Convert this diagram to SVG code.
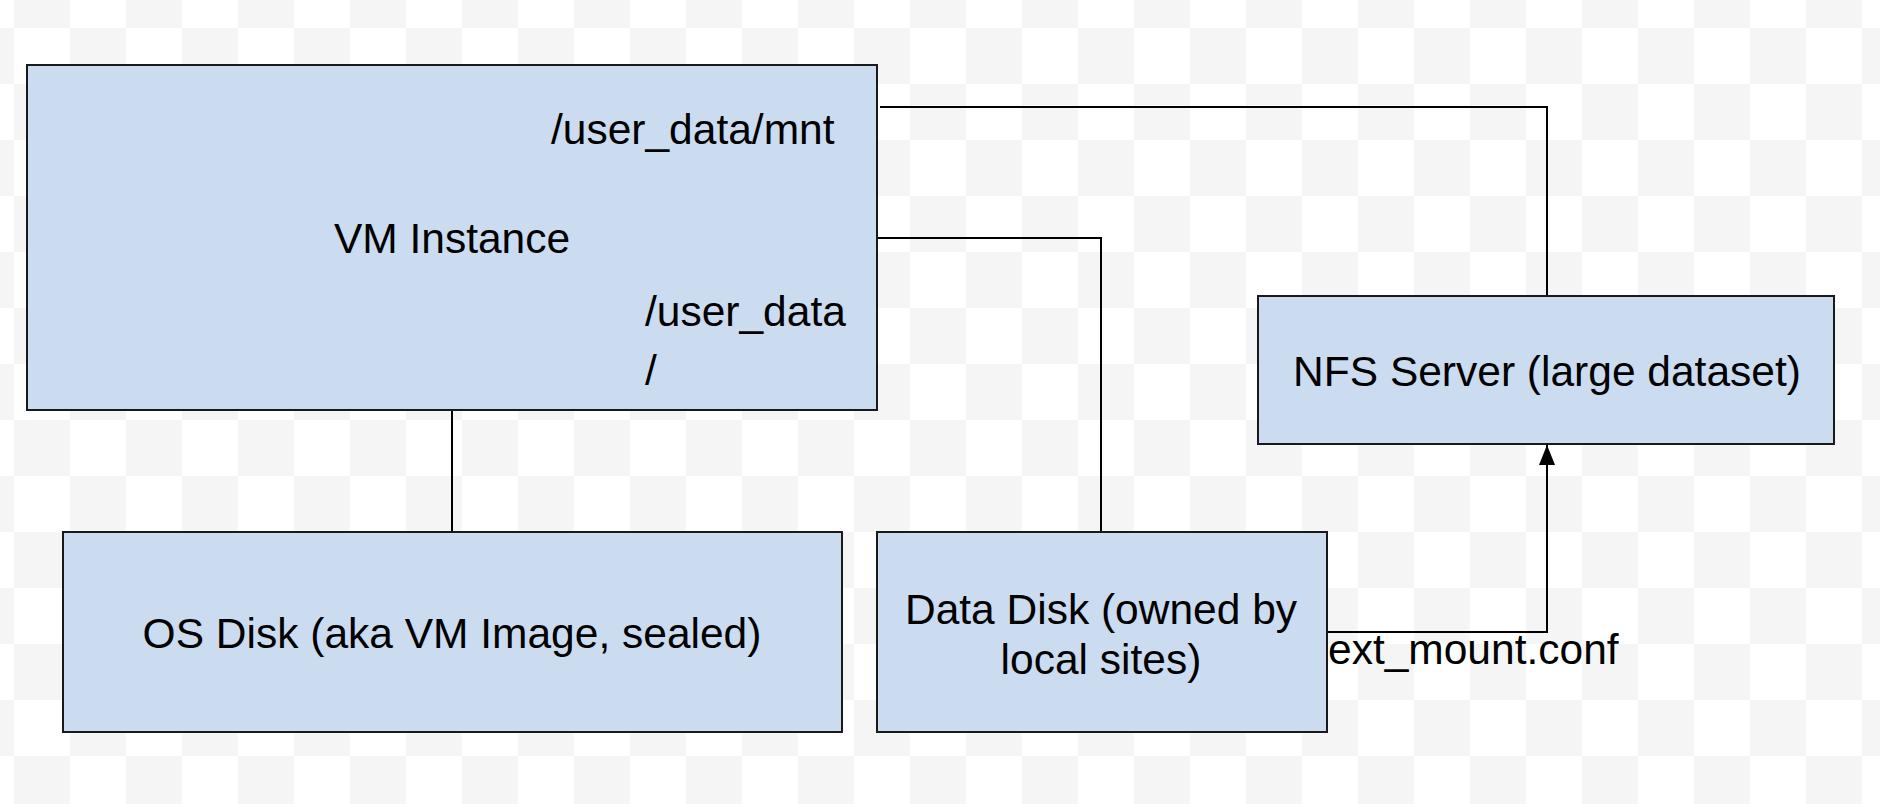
<svg xmlns="http://www.w3.org/2000/svg" width="1880" height="804" viewBox="0 0 1880 804">
<defs>
<pattern id="chk" x="14" y="-28" width="112" height="112" patternUnits="userSpaceOnUse">
<rect width="112" height="112" fill="#ffffff"/>
<rect width="56" height="56" fill="#f5f5f5"/>
<rect x="56" y="56" width="56" height="56" fill="#f5f5f5"/>
</pattern>
<marker id="arr" markerWidth="20" markerHeight="16" refX="20" refY="8" orient="auto" markerUnits="userSpaceOnUse" viewBox="0 0 20 16">
<path d="M0,0 L20,8 L0,16 Z" fill="#000"/>
</marker>
<style>
.box{fill:#cbdcf1;stroke:#1a1a1a;stroke-width:2}
.t{font-family:"Liberation Sans",Arial,sans-serif;font-size:42.5px;fill:#000}
.c{text-anchor:middle}
.ln{fill:none;stroke:#000;stroke-width:2}
</style>
</defs>
<rect width="1880" height="804" fill="url(#chk)"/>
<g id="connectors">
<path class="ln" d="M452,410 V532"/>
<path class="ln" d="M877,238 H1101 V532"/>
<path class="ln" d="M880,107 H1547 V296"/>
<path class="ln" d="M1327,632 H1547 V445" marker-end="url(#arr)"/>
<text class="t" x="1328" y="664">ext_mount.conf</text>
</g>
<g id="vm">
<rect class="box" x="27" y="65" width="850" height="345"/>
<text class="t c" x="452" y="253">VM Instance</text>
<text class="t" x="551" y="144">/user_data/mnt</text>
<text class="t" x="645" y="326">/user_data</text>
<text class="t" x="645" y="385">/</text>
</g>
<g id="osdisk">
<rect class="box" x="63" y="532" width="779" height="200"/>
<text class="t c" x="452" y="648">OS Disk (aka VM Image, sealed)</text>
</g>
<g id="datadisk">
<rect class="box" x="877" y="532" width="450" height="200"/>
<text class="t c" x="1101" y="624">Data Disk (owned by</text>
<text class="t c" x="1101" y="674">local sites)</text>
</g>
<g id="nfs">
<rect class="box" x="1258" y="296" width="576" height="148"/>
<text class="t c" x="1547" y="386">NFS Server (large dataset)</text>
</g>
</svg>
